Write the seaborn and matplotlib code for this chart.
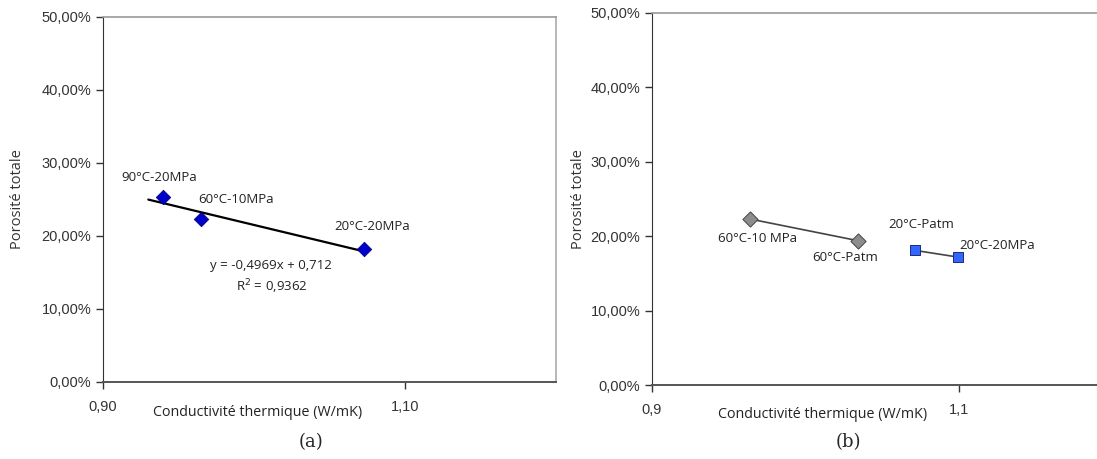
import numpy as np
import matplotlib
matplotlib.use("Agg")
import matplotlib.pyplot as plt
import seaborn as sns
from matplotlib.ticker import FuncFormatter

# Panel (a) data
a_labels = ["90°C-20MPa", "60°C-10MPa", "20°C-20MPa"]
a_cond = [0.940, 0.965, 1.073]
a_poro = [0.253, 0.223, 0.182]
trend_slope = -0.4969
trend_icpt = 0.712

# Panel (b) data
b60_labels = ["60°C-10 MPa", "60°C-Patm"]
b60_cond = [0.964, 1.034]
b60_poro = [0.223, 0.194]
b20_labels = ["20°C-Patm", "20°C-20MPa"]
b20_cond = [1.071, 1.099]
b20_poro = [0.181, 0.172]

sns.set_style("white")
plt.rcParams["font.family"] = ["Liberation Sans", "DejaVu Sans"]

fig = plt.figure(figsize=(10.97, 4.59), dpi=100)
ax1 = fig.add_axes([0.0939, 0.1678, 0.4129, 0.7952])
ax2 = fig.add_axes([0.5944, 0.1612, 0.42, 0.8105])

pct = FuncFormatter(lambda v, p: f"{v*100:.2f}%".replace(".", ","))
lab_font = dict(family=["Open Sans", "DejaVu Sans"], fontsize=9.5, color="#222222")
tick_col = "#333333"

# ---- (a)
x_tr = np.array([a_cond[0] - 0.01, a_cond[-1]])
ax1.plot(x_tr, trend_slope * x_tr + trend_icpt, color="black", lw=1.6, zorder=2)
sns.scatterplot(x=a_cond, y=a_poro, ax=ax1, marker="D", s=55, color="#0000cc",
                edgecolor="#000066", linewidth=0.5, zorder=3, legend=False)
ax1.text(a_cond[0] - 0.028, a_poro[0] + 0.023, a_labels[0], **lab_font)
ax1.text(a_cond[1] - 0.002, a_poro[1] + 0.022, a_labels[1], **lab_font)
ax1.text(a_cond[2] - 0.020, a_poro[2] + 0.026, a_labels[2], **lab_font)
ax1.text(1.0115, 0.143, "y = -0,4969x + 0,712\nR$^2$ = 0,9362", ha="center",
         va="center", linespacing=1.35, **lab_font)
ax1.set_xlim(0.9, 1.2)
ax1.set_xticks([0.9, 1.1])
ax1.set_xticklabels(["0,90", "1,10"])

# ---- (b)
ax2.plot(b60_cond, b60_poro, color="#444444", lw=1.2, zorder=2)
ax2.plot(b20_cond, b20_poro, color="#444444", lw=1.2, zorder=2)
sns.scatterplot(x=b60_cond, y=b60_poro, ax=ax2, marker="D", s=60, color="#8c8c8c",
                edgecolor="#444444", linewidth=0.7, zorder=3, legend=False)
sns.scatterplot(x=b20_cond, y=b20_poro, ax=ax2, marker="s", s=55, color="#3366ff",
                edgecolor="#1a2a80", linewidth=0.7, zorder=3, legend=False)
ax2.text(b60_cond[0] - 0.021, b60_poro[0] - 0.031, b60_labels[0], **lab_font)
ax2.text(b60_cond[1] - 0.030, b60_poro[1] - 0.027, b60_labels[1], **lab_font)
ax2.text(b20_cond[0] - 0.017, b20_poro[0] + 0.030, b20_labels[0], **lab_font)
ax2.text(b20_cond[1] + 0.001, b20_poro[1] + 0.011, b20_labels[1], **lab_font)
ax2.set_xlim(0.9, 1.2)
ax2.set_xticks([0.9, 1.1])
ax2.set_xticklabels(["0,9", "1,1"])

for ax in (ax1, ax2):
    ax.set_ylim(0, 0.5)
    ax.set_yticks(np.arange(0, 0.51, 0.1))
    ax.yaxis.set_major_formatter(pct)
    ax.tick_params(axis="both", direction="out", length=5, width=1, color=tick_col,
                   labelsize=10.5, labelcolor="#333333", left=True, bottom=True)
    ax.tick_params(axis="x", pad=8)
    ax.set_xlabel("Conductivité thermique (W/mK)", family=["Open Sans", "DejaVu Sans"],
                  fontsize=10.3, color="#222222")
    ax.spines["left"].set_color("#333333")
    ax.spines["bottom"].set_color("#555555")
    ax.spines["bottom"].set_linewidth(1.4)
    ax.spines["top"].set_color("#999999")
    ax.spines["top"].set_linewidth(1.2)

ax1.set_ylabel("Porosité totale", family=["Open Sans", "DejaVu Sans"],
               fontsize=10.5, color="#333333", labelpad=12)
ax2.set_ylabel("Porosité totale", family=["Open Sans", "DejaVu Sans"],
               fontsize=10.5, color="#333333", labelpad=3)
ax1.xaxis.set_label_coords(0.342, -0.063)
ax2.xaxis.set_label_coords(0.371, -0.058)

ax1.spines["right"].set_color("#aaaaaa")
ax1.spines["right"].set_linewidth(1.2)
ax2.spines["right"].set_visible(False)

fig.text(0.2835, 0.025, "(a)", family=["DejaVu Serif"], fontsize=13, ha="center")
fig.text(0.773, 0.025, "(b)", family=["DejaVu Serif"], fontsize=13, ha="center")

fig.savefig("out.png", dpi=100)
